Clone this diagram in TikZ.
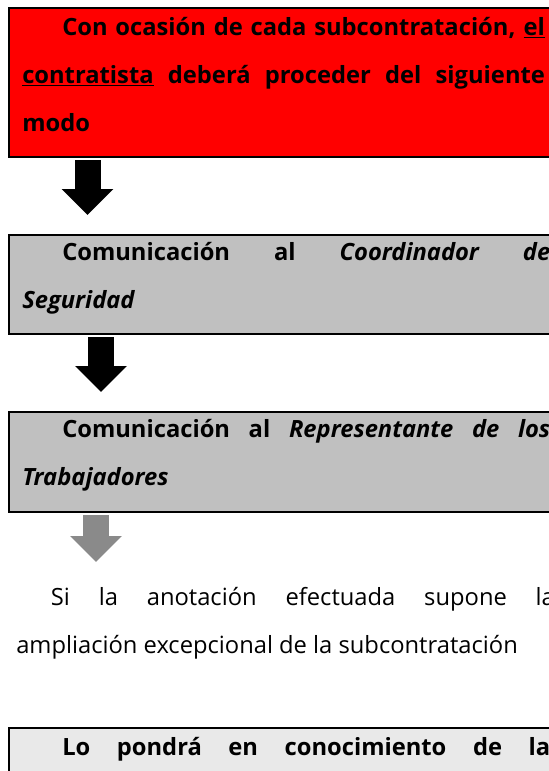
\documentclass[tikz,border=0pt]{standalone}
\usepackage{fontspec}
\setmainfont{Open Sans}
\usetikzlibrary{arrows.meta}
\definecolor{boxred}{HTML}{FF0000}
\definecolor{boxgray}{HTML}{C0C0C0}
\definecolor{boxlight}{HTML}{E9E9E9}
\definecolor{arrowgray}{HTML}{8A8A8A}
\begin{document}
\begin{tikzpicture}[x=0.75pt,y=-0.75pt,
  stage/.style={draw=black,line width=1.5pt,rectangle,minimum width=412pt,anchor=north west,outer sep=0pt,inner sep=0pt},
  boxtxt/.style={anchor=base west,inner sep=0pt,text width=396pt,align=justify,font=\fontsize{17.8pt}{36pt}\selectfont\bfseries},
  plaintxt/.style={anchor=base west,inner sep=0pt,text width=404pt,align=justify,font=\fontsize{17.8pt}{36pt}\selectfont},
  blkarrow/.style={line width=19.5pt,-{Triangle[width=37.5pt,length=19.5pt]}}]
\useasboundingbox (0,0) rectangle (549,771);
\clip (0,0) rectangle (549,771);
% boxes
\node[stage,fill=boxred,minimum height=111.75pt] (SC) at (9,8) {};
\node[stage,fill=boxgray,minimum height=74.25pt] (CS) at (9,235) {};
\node[stage,fill=boxgray,minimum height=75pt] (RT) at (9,412) {};
\node[stage,fill=boxlight,minimum height=45pt] (CN) at (9,728) {};
% texts
\node[boxtxt,text width=392pt] (SCtxt) at (22,35) {\hspace*{30pt}Con ocasión de cada subcontratación, \underline{el}\linebreak \underline{contratista} deberá proceder del siguiente\linebreak modo};
\node[boxtxt] (CStxt) at (22,260) {\hspace*{30pt}Comunicación al \textit{Coordinador de}\linebreak \textit{Seguridad}};
\node[boxtxt] (RTtxt) at (22,437) {\hspace*{30pt}Comunicación al \textit{Representante de los}\linebreak \textit{Trabajadores}};
\node[plaintxt] (AMtxt) at (16,605) {\hspace*{26pt}Si la anotación efectuada supone la\linebreak ampliación excepcional de la subcontratación};
\node[boxtxt] (CNtxt) at (22,755) {\hspace*{30pt}\makebox[366pt][s]{Lo pondrá en conocimiento de la}};
% arrows
\coordinate (AMtop) at (96,562);
\draw[blkarrow] ([shift={(78.5,3)}]SC.south west) -- ([shift={(78.5,-20)}]CS.north west);
\draw[blkarrow] ([shift={(92,3)}]CS.south west) -- ([shift={(92,-20)}]RT.north west);
\draw[blkarrow,color=arrowgray] ([shift={(87,3)}]RT.south west) -- (AMtop);
\end{tikzpicture}
\end{document}
